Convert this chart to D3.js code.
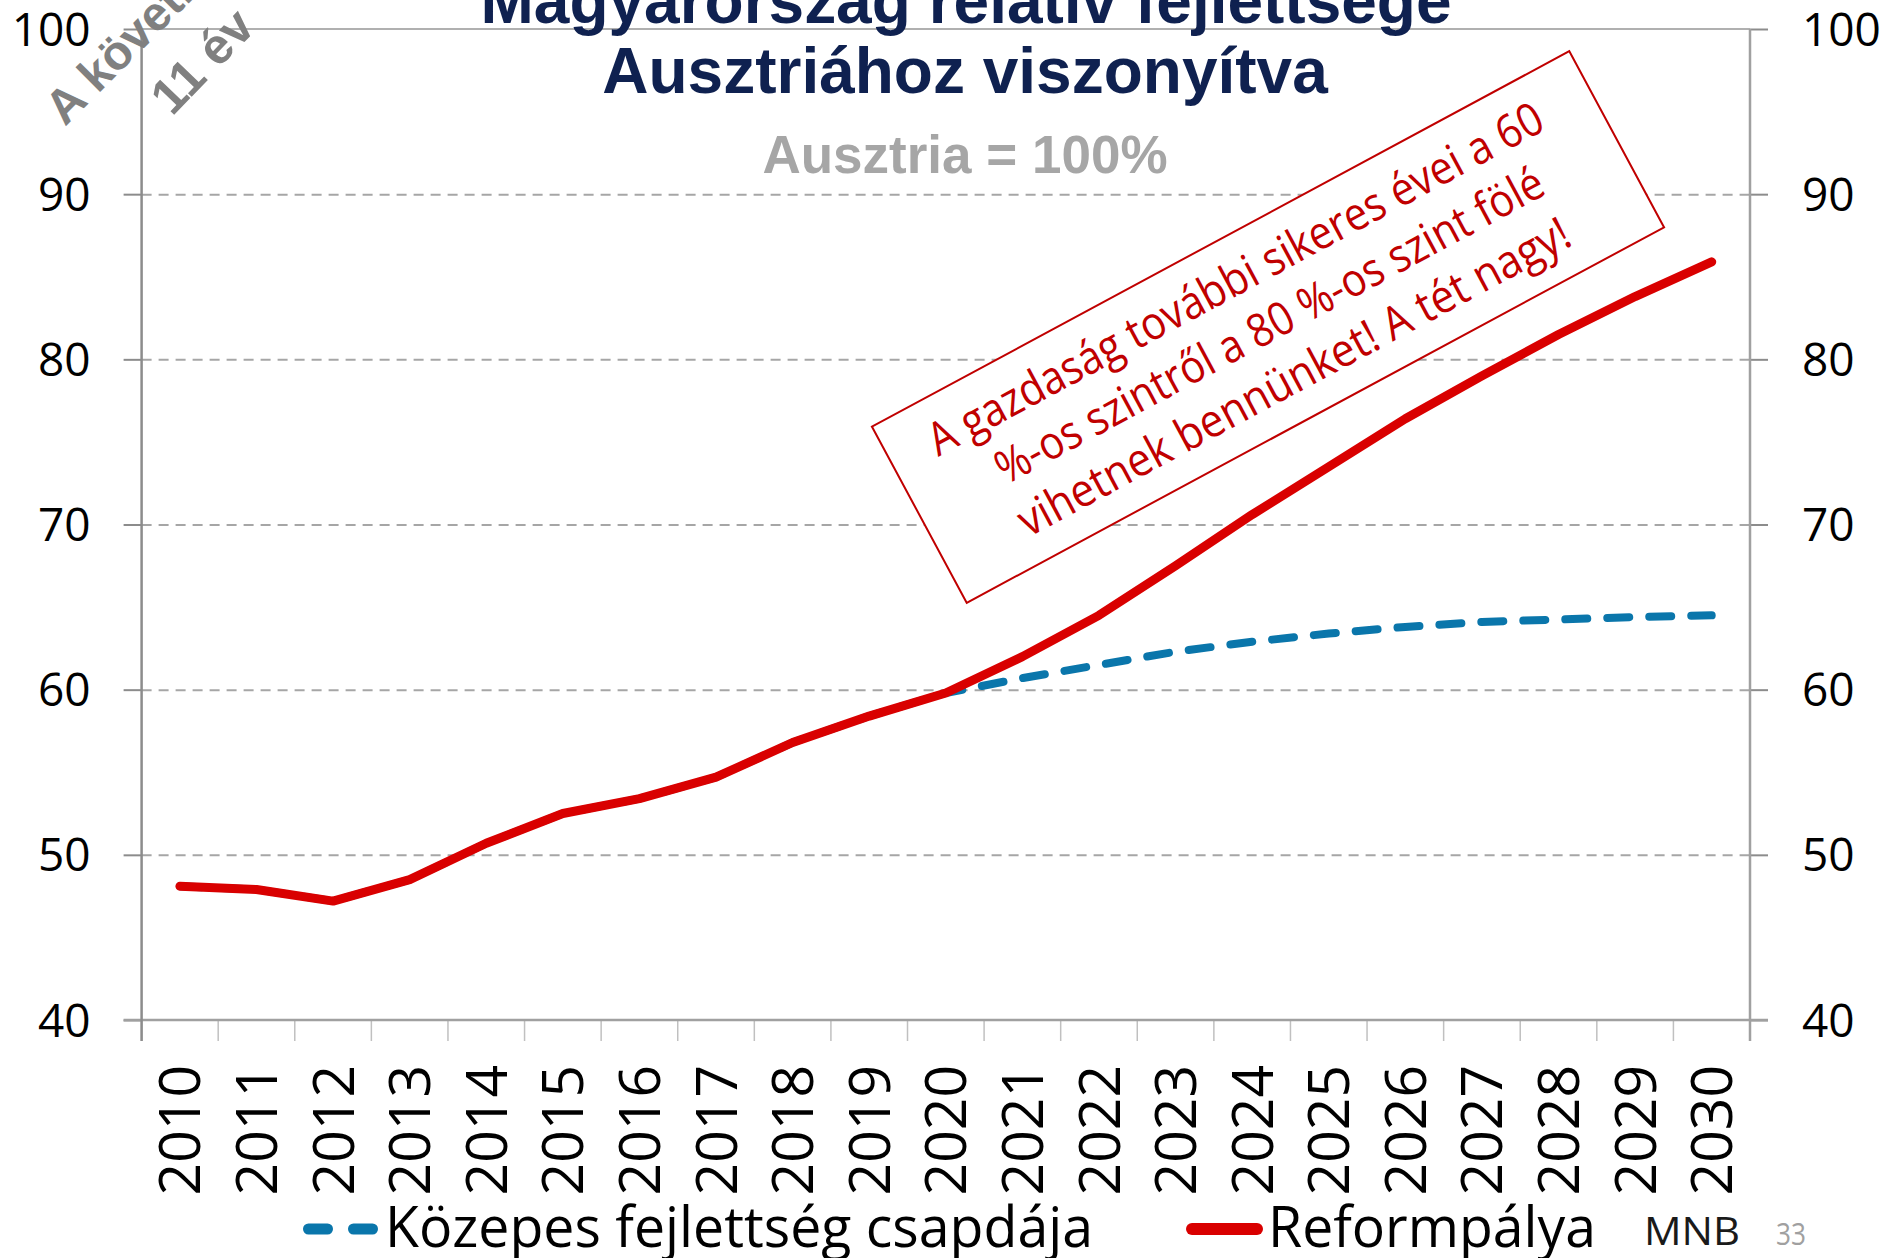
<!DOCTYPE html>
<html>
<head>
<meta charset="utf-8">
<script src="https://cdn.jsdelivr.net/npm/d3@7"></script>
<style>
  body { margin: 0; background: #fff; }
  svg { display: block; }
</style>
</head>
<body>
<svg id="chart" width="1897" height="1258"></svg>
<script>
const years = ["2010", "2011", "2012", "2013", "2014", "2015", "2016", "2017", "2018", "2019", "2020",
  "2021", "2022", "2023", "2024", "2025", "2026", "2027", "2028", "2029", "2030"];
const reform = [48.1, 47.9, 47.2, 48.5, 50.7, 52.5, 53.4, 54.7, 56.8, 58.4, 59.8,
  62.0, 64.5, 67.5, 70.6, 73.5, 76.4, 79.0, 81.5, 83.8, 85.9];
const trap = [48.1, 47.9, 47.2, 48.5, 50.7, 52.5, 53.4, 54.7, 56.8, 58.4, 59.8,
  60.7, 61.5, 62.3, 62.9, 63.4, 63.8, 64.1, 64.25, 64.4, 64.5];
const yTicks = [40, 50, 60, 70, 80, 90, 100];
const seriesNames = ["Közepes fejlettség csapdája", "Reformpálya"];
const titleLines = ["Magyarország relatív fejlettsége", "Ausztriához viszonyítva"];
const subtitle = "Ausztria = 100%";
const noteLines = ["A gazdaság további sikeres évei a 60", "%-os szintről a 80 %-os szint fölé", "vihetnek bennünket! A tét nagy!"];
const cornerLines = ["A következő", "11 év"];

const RED = "#d90000";
const BLUE = "#0a76ab";
const NOTE = "#c00000";
const CAL = "'Open Sans', 'Noto Sans', sans-serif";
const ARIAL = "'Liberation Sans', Arial, sans-serif";

const svg = d3.select("#chart");

const x = d3.scaleBand().domain(years).range([141.6, 1750]);
const y = d3.scaleLinear().domain([40, 100]).range([1020, 29]);
const cx = (d) => x(d) + x.bandwidth() / 2;

// * gridlines
svg.append("g")
  .attr("transform", `translate(${x.range()[0]},0)`)
  .call(d3.axisLeft(y).tickValues(yTicks.slice(1, -1)).tickSize(-(x.range()[1] - x.range()[0])).tickFormat(""))
  .call((g) => g.select(".domain").remove())
  .call((g) => g.selectAll("line").attr("stroke", "#a6a6a6").attr("stroke-width", 2).attr("stroke-dasharray", "10 7"));

svg.append("line")
  .attr("x1", x.range()[0]).attr("x2", x.range()[1])
  .attr("y1", y(100)).attr("y2", y(100))
  .attr("stroke", "#b0b0b0").attr("stroke-width", 2);

// * left axis
svg.append("g")
  .attr("transform", `translate(${x.range()[0]},0)`)
  .call(d3.axisLeft(y).tickValues(yTicks).tickSize(18).tickPadding(33))
  .call((g) => g.select(".domain").remove())
  .call((g) => g.selectAll("line").attr("stroke", "#8c8c8c").attr("stroke-width", 2))
  .call((g) => g.selectAll("text").attr("dy", "0.35em").attr("fill", "#000")
    .attr("font-family", CAL).attr("font-size", 46));

// * right axis
svg.append("g")
  .attr("transform", `translate(${x.range()[1]},0)`)
  .call(d3.axisRight(y).tickValues(yTicks).tickSize(18).tickPadding(34))
  .call((g) => g.select(".domain").remove())
  .call((g) => g.selectAll("line").attr("stroke", "#8c8c8c").attr("stroke-width", 2))
  .call((g) => g.selectAll("text").attr("dy", "0.35em").attr("fill", "#000")
    .attr("font-family", CAL).attr("font-size", 46));

// * category ticks between years
const bounds = years.map((d) => x(d)).concat([x.range()[1]]);
svg.append("g")
  .selectAll("line")
  .data(bounds)
  .join("line")
  .attr("x1", (d) => d).attr("x2", (d) => d)
  .attr("y1", y(40)).attr("y2", y(40) + 21)
  .attr("stroke", "#c0c0c0").attr("stroke-width", 1.5);

// * axis lines
svg.append("line")
  .attr("x1", x.range()[0] - 18).attr("x2", x.range()[1] + 18)
  .attr("y1", y(40)).attr("y2", y(40))
  .attr("stroke", "#a0a0a0").attr("stroke-width", 2.5);
svg.append("line")
  .attr("x1", x.range()[0]).attr("x2", x.range()[0])
  .attr("y1", y(100)).attr("y2", y(40) + 21)
  .attr("stroke", "#8c8c8c").attr("stroke-width", 2.5);
svg.append("line")
  .attr("x1", x.range()[1]).attr("x2", x.range()[1])
  .attr("y1", y(100)).attr("y2", y(40) + 21)
  .attr("stroke", "#a0a0a0").attr("stroke-width", 2.5);

// * year labels
svg.append("g")
  .attr("transform", `translate(0,${y(40)})`)
  .call(d3.axisBottom(x).tickSize(0))
  .call((g) => g.select(".domain").remove())
  .call((g) => g.selectAll("text")
    .attr("x", -45).attr("y", 0).attr("dy", "0.36em")
    .attr("text-anchor", "end").attr("transform", "rotate(-90)")
    .attr("fill", "#000").attr("font-family", CAL).attr("font-size", 57));

// * lines
const line = d3.line().x((d, i) => cx(years[i])).y((d) => y(d));
svg.append("path")
  .attr("d", line(trap))
  .attr("fill", "none").attr("stroke", BLUE).attr("stroke-width", 8)
  .attr("stroke-linecap", "round").attr("stroke-dasharray", "22 20");
svg.append("path")
  .attr("d", line(reform))
  .attr("fill", "none").attr("stroke", RED).attr("stroke-width", 9)
  .attr("stroke-linecap", "round").attr("stroke-linejoin", "round");

// * titles
svg.append("text")
  .attr("x", 966).attr("y", 23).attr("text-anchor", "middle")
  .attr("font-family", ARIAL).attr("font-weight", "bold").attr("font-size", 64).attr("fill", "#0f2150")
  .text(titleLines[0]);
svg.append("text")
  .attr("x", 965).attr("y", 93).attr("text-anchor", "middle")
  .attr("font-family", ARIAL).attr("font-weight", "bold").attr("font-size", 64).attr("fill", "#0f2150")
  .text(titleLines[1]);
svg.append("text")
  .attr("x", 965).attr("y", 173).attr("text-anchor", "middle")
  .attr("font-family", ARIAL).attr("font-weight", "bold").attr("font-size", 53).attr("fill", "#a6a6a6")
  .text(subtitle);

// * corner text (cut off by the top edge)
svg.append("text")
  .attr("transform", "translate(65,127) rotate(-45)")
  .attr("font-family", ARIAL).attr("font-weight", "bold").attr("font-size", 48).attr("fill", "#808080")
  .text(cornerLines[0]);
svg.append("text")
  .attr("transform", "translate(172,117) rotate(-46)")
  .attr("font-family", ARIAL).attr("font-weight", "bold").attr("font-size", 50).attr("fill", "#808080")
  .text(cornerLines[1]);

// * annotation box
const note = svg.append("g").attr("transform", "translate(1268,327) rotate(-28.3)");
note.append("rect")
  .attr("x", -396).attr("y", -100).attr("width", 792).attr("height", 200)
  .attr("fill", "#fff").attr("stroke", NOTE).attr("stroke-width", 2);
const noteLen = [692, 616, 620];
const noteX = [-6, 2, -1];
note.selectAll("text")
  .data(noteLines)
  .join("text")
  .attr("x", (d, i) => noteX[i])
  .attr("y", (d, i) => -42 + i * 57)
  .attr("text-anchor", "middle")
  .attr("textLength", (d, i) => noteLen[i]).attr("lengthAdjust", "spacingAndGlyphs")
  .attr("font-family", CAL).attr("font-size", 46).attr("fill", NOTE)
  .text((d) => d);

// * legend
const legend = svg.append("g");
legend.append("line")
  .attr("x1", 308.5).attr("x2", 372.5).attr("y1", 1229).attr("y2", 1229)
  .attr("stroke", BLUE).attr("stroke-width", 11).attr("stroke-linecap", "round")
  .attr("stroke-dasharray", "19 26");
legend.append("text")
  .attr("x", 385).attr("y", 1247).attr("textLength", 708).attr("lengthAdjust", "spacingAndGlyphs")
  .attr("font-family", CAL).attr("font-size", 57).attr("fill", "#000")
  .text(seriesNames[0]);
legend.append("line")
  .attr("x1", 1192).attr("x2", 1257).attr("y1", 1229).attr("y2", 1229)
  .attr("stroke", RED).attr("stroke-width", 12).attr("stroke-linecap", "round");
legend.append("text")
  .attr("x", 1268).attr("y", 1247).attr("textLength", 328).attr("lengthAdjust", "spacingAndGlyphs")
  .attr("font-family", CAL).attr("font-size", 57).attr("fill", "#000")
  .text(seriesNames[1]);

svg.append("text")
  .attr("x", 1644).attr("y", 1245).attr("textLength", 96).attr("lengthAdjust", "spacingAndGlyphs")
  .attr("font-family", CAL).attr("font-size", 39).attr("fill", "#1a1a1a")
  .text("MNB");
svg.append("text")
  .attr("x", 1776).attr("y", 1245).attr("textLength", 30).attr("lengthAdjust", "spacingAndGlyphs")
  .attr("font-family", CAL).attr("font-size", 31).attr("fill", "#a0a0a0")
  .text("33");
</script>
</body>
</html>
